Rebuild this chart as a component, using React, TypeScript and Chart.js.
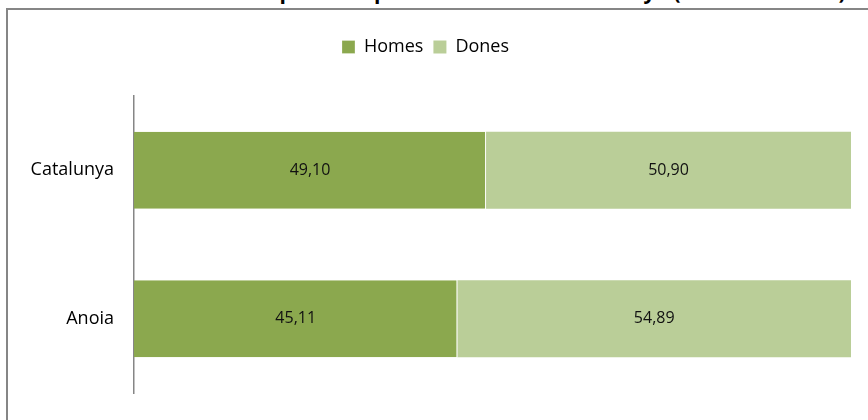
import React, { useEffect, useRef } from "react";
import { Chart, registerables } from "chart.js";

Chart.register(...registerables);

const categories = ["Catalunya", "Anoia"];
const homes = [49.1, 45.11];
const dones = [50.9, 54.89];
const seriesNames = ["Homes", "Dones"];
const titleText =
  "Gràfic 2. Distribució de la població per sexes. Anoia i Catalunya (desembre 2013)";

const FONT = "'Open Sans', sans-serif";

const valueLabels = {
  id: "valueLabels",
  afterDatasetsDraw(chart: any) {
    const ctx = chart.ctx;
    ctx.save();
    ctx.font = `16px ${FONT}`;
    ctx.fillStyle = "#111";
    ctx.textAlign = "center";
    ctx.textBaseline = "middle";
    chart.data.datasets.forEach((ds: any, di: number) => {
      const meta = chart.getDatasetMeta(di);
      meta.data.forEach((bar: any, i: number) => {
        const v = ds.data[i] as number;
        const p = bar.getProps(["x", "y", "base"], true);
        const cx = (p.x + p.base) / 2;
        ctx.fillText(v.toFixed(2).replace(".", ","), cx, p.y);
      });
    });
    ctx.restore();
  },
};

export default function App() {
  const ref = useRef<HTMLCanvasElement>(null);
  useEffect(() => {
    if (!ref.current) return;
    const chart = new Chart(ref.current, {
      type: "bar",
      data: {
        labels: categories,
        datasets: [
          {
            label: seriesNames[0],
            data: homes,
            backgroundColor: "#8BA84E",
            borderColor: "#ffffff",
            borderWidth: { right: 1 } as any,
            borderSkipped: false,
            barPercentage: 1,
            categoryPercentage: 0.52,
          },
          {
            label: seriesNames[1],
            data: dones,
            backgroundColor: "#BACE98",
            borderWidth: 0,
            barPercentage: 1,
            categoryPercentage: 0.52,
          },
        ],
      },
      options: {
        indexAxis: "y",
        animation: false,
        responsive: false,
        maintainAspectRatio: false,
        layout: { padding: { top: 28, right: 17, bottom: 27, left: 0 } },
        plugins: {
          legend: {
            position: "top",
            labels: {
              boxWidth: 13,
              boxHeight: 13,
              padding: 10,
              color: "#000",
              font: { family: FONT, size: 18 },
            },
          },
          tooltip: { enabled: false },
        },
        scales: {
          x: {
            stacked: true,
            min: 0,
            max: 100,
            position: "top",
            display: true,
            grid: { display: false, drawTicks: false },
            border: { display: false },
            ticks: { display: false },
            afterFit: (s: any) => {
              s.height = 30;
              s.paddingLeft = 0;
              s.paddingRight = 0;
            },
          },
          y: {
            stacked: true,
            grid: { color: "transparent", drawTicks: false },
            border: { display: true, color: "#868686", width: 1.5 },
            ticks: {
              padding: 20,
              color: "#000",
              font: { family: FONT, size: 18 },
            },
            afterFit: (s: any) => {
              s.width = 134;
              s.paddingTop = 0;
              s.paddingBottom = 0;
            },
          },
        },
      },
      plugins: [valueLabels],
    });
    return () => chart.destroy();
  }, []);

  return (
    <div
      style={{
        position: "absolute",
        left: 0,
        top: 0,
        width: 868,
        height: 420,
        overflow: "hidden",
        background: "#fff",
      }}
    >
      <div
        style={{
          position: "absolute",
          left: 12,
          top: -21,
          whiteSpace: "nowrap",
          fontFamily: FONT,
          fontWeight: 700,
          fontSize: 21,
          lineHeight: "24px",
          color: "#000",
        }}
      >
        {titleText}
      </div>
      <div
        style={{
          position: "absolute",
          left: 6,
          top: 8,
          width: 900,
          height: 500,
          border: "2px solid #868686",
          background: "#fff",
        }}
      />
      <canvas
        ref={ref}
        width={868}
        height={420}
        style={{ position: "absolute", left: 0, top: 0 }}
      />
    </div>
  );
}
